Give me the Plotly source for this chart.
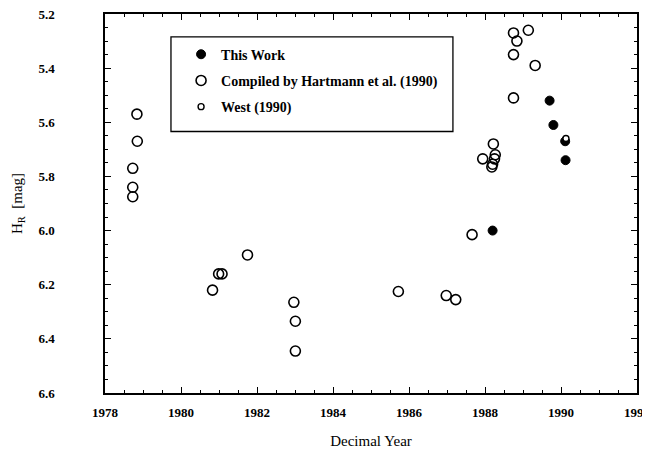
import plotly.graph_objects as go

# This Work (filled)
this_year = [1988.20, 1989.70, 1989.80, 1990.11, 1990.12]
this_mag = [6.00, 5.52, 5.61, 5.67, 5.74]

# Compiled by Hartmann et al. (1990) (open)
hart_year = [1978.73, 1978.73, 1978.73, 1978.84, 1978.85,
             1980.83, 1980.99, 1981.08, 1981.75,
             1982.97, 1983.01, 1983.01,
             1985.72, 1986.98, 1987.23, 1987.66,
             1987.94, 1988.20, 1988.22, 1988.27, 1988.25, 1988.18,
             1988.75, 1988.84, 1989.14, 1988.75, 1989.32, 1988.75]
hart_mag = [5.77, 5.84, 5.875, 5.57, 5.67,
            6.22, 6.16, 6.16, 6.09,
            6.265, 6.335, 6.445,
            6.225, 6.24, 6.255, 6.015,
            5.735, 5.755, 5.68, 5.72, 5.735, 5.765,
            5.27, 5.30, 5.26, 5.35, 5.39, 5.51]

# West (1990) (small open)
west_year = [1990.13]
west_mag = [5.66]

font_fam = "Liberation Serif"

fig = go.Figure()
fig.add_trace(go.Scatter(
    x=this_year, y=this_mag, mode="markers", name="This Work",
    legendgroup="a",
    marker=dict(symbol="circle", size=9, color="black", line=dict(color="black", width=1))))
fig.add_trace(go.Scatter(
    x=hart_year, y=hart_mag, mode="markers", name="Compiled by Hartmann et al. (1990)",
    legendgroup="b",
    marker=dict(symbol="circle-open", size=10, color="black", line=dict(color="black", width=1.6))))
fig.add_trace(go.Scatter(
    x=west_year, y=west_mag, mode="markers", name="West (1990)",
    legendgroup="c",
    marker=dict(symbol="circle", size=6, color="white", line=dict(color="black", width=1.4))))

axis_common = dict(
    showline=True, linecolor="black", linewidth=1.5, mirror="allticks",
    ticks="inside", ticklen=6, tickwidth=1.2, tickcolor="black",
    showgrid=False, zeroline=False, automargin=False, ticklabeloverflow="allow",
    tickfont=dict(family=font_fam, size=13, color="black", weight="bold"),
)

fig.update_layout(
    width=650, height=464,
    margin=dict(l=97, r=21, t=6, b=79),
    paper_bgcolor="white", plot_bgcolor="white",
    font=dict(family=font_fam, color="black"),
    showlegend=True,
    legend=dict(
        x=0.143, y=0.935, xanchor="left", yanchor="top",
        borderwidth=0, bgcolor="rgba(0,0,0,0)",
        font=dict(family=font_fam, size=14, color="black", weight="bold"),
        traceorder="grouped", tracegroupgap=5,
        itemsizing="trace",
    ),
    shapes=[dict(type="rect", xref="paper", yref="paper",
                 x0=0.124, x1=0.654, y0=0.690, y1=0.9396,
                 line=dict(color="black", width=1.3), fillcolor="white", layer="below")],
    xaxis=dict(
        range=[1978, 1992], tickmode="linear", tick0=1978, dtick=2,
        minor=dict(dtick=0.5, ticks="inside", ticklen=3, tickcolor="black", tickwidth=1),
        ticklabelstandoff=7,
        title=dict(text="Decimal Year", font=dict(family=font_fam, size=15, color="black"), standoff=16),
        **axis_common,
    ),
    yaxis=dict(
        range=[6.6, 5.2], tickmode="linear", tick0=5.2, dtick=0.2, tickformat=".1f",
        minor=dict(dtick=0.05, ticks="inside", ticklen=3, tickcolor="black", tickwidth=1),
        ticklabelstandoff=46,
        title=dict(text="H<sub>R</sub>  [mag]", font=dict(family=font_fam, size=15, color="black"), standoff=12),
        **axis_common,
    ),
)

fig.write_html("out.html")
